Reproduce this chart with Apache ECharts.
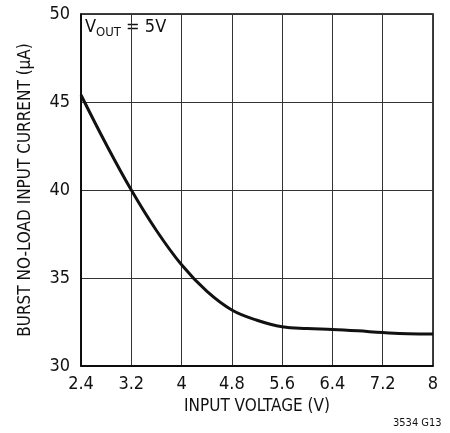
<!DOCTYPE html>
<html>
<head>
<meta charset="utf-8">
<script src="https://cdn.jsdelivr.net/npm/echarts@6/dist/echarts.min.js"></script>
<style>
  html, body { margin: 0; padding: 0; background: #fff; }
  #chart { width: 450px; height: 433px; }
</style>
</head>
<body>
<div id="chart"></div>
<script>
// input voltage (V) vs burst no-load input current (uA)
const vin = [2.4, 2.8, 3.2, 3.6, 4.0, 4.4, 4.8, 5.2, 5.6, 6.0, 6.4, 6.8, 7.2, 7.6, 8.0];
const iq = [45.4, 42.6, 40.0, 37.7, 35.75, 34.25, 33.18, 32.6, 32.23, 32.13, 32.08, 32.0, 31.9, 31.83, 31.82];

const font = '"DejaVu Sans Condensed", sans-serif';

let myChart = echarts.init(document.getElementById('chart'));
myChart.setOption({
    animation: false,
    grid: {
        left: 81, right: 17, top: 14, bottom: 67,
        show: true, borderColor: '#000', borderWidth: 1.5
    },
    xAxis: {
        type: 'value',
        min: 2.4, max: 8, interval: 0.8,
        name: 'INPUT VOLTAGE (V)',
        nameLocation: 'middle',
        nameGap: 32,
        nameTextStyle: { fontFamily: font, fontSize: 17, color: '#111' },
        axisLine: { lineStyle: { color: '#000', width: 1.5 } },
        axisTick: { show: false },
        axisLabel: {
            fontFamily: font, fontSize: 18, color: '#111', margin: 9,
            formatter: v => String(+v.toFixed(1))
        },
        splitLine: { lineStyle: { color: '#333', width: 1 } }
    },
    yAxis: {
        type: 'value',
        min: 30, max: 50, interval: 5,
        name: 'BURST NO-LOAD INPUT CURRENT (μA)',
        nameLocation: 'middle',
        nameGap: 47,
        nameRotate: 90,
        nameTextStyle: { fontFamily: font, fontSize: 17, color: '#111' },
        axisLine: { show: true, lineStyle: { color: '#000', width: 1.5 } },
        axisTick: { show: false },
        axisLabel: { fontFamily: font, fontSize: 18, color: '#111', margin: 11 },
        splitLine: { lineStyle: { color: '#333', width: 1 } }
    },
    series: [{
        type: 'line',
        data: vin.map((v, i) => [v, iq[i]]),
        smooth: 0.4,
        showSymbol: false,
        lineStyle: { color: '#111', width: 3 }
    }],
    graphic: [
        {
            type: 'text',
            left: 84, top: 17,
            style: {
                text: '{v|V}{s|OUT}{v| = 5V}',
                backgroundColor: '#fff',
                padding: [1, 2, 1, 1],
                rich: {
                    v: { fontFamily: font, fontSize: 18, fill: '#111', verticalAlign: 'top', lineHeight: 22 },
                    s: { fontFamily: font, fontSize: 13, fill: '#111', padding: [8, 0, 0, 0], lineHeight: 22 }
                }
            }
        },
        {
            type: 'text',
            left: 393, top: 418,
            style: { text: '3534 G13', fontFamily: font, fontSize: 11, fill: '#111' }
        }
    ]
});
</script>
</body>
</html>
